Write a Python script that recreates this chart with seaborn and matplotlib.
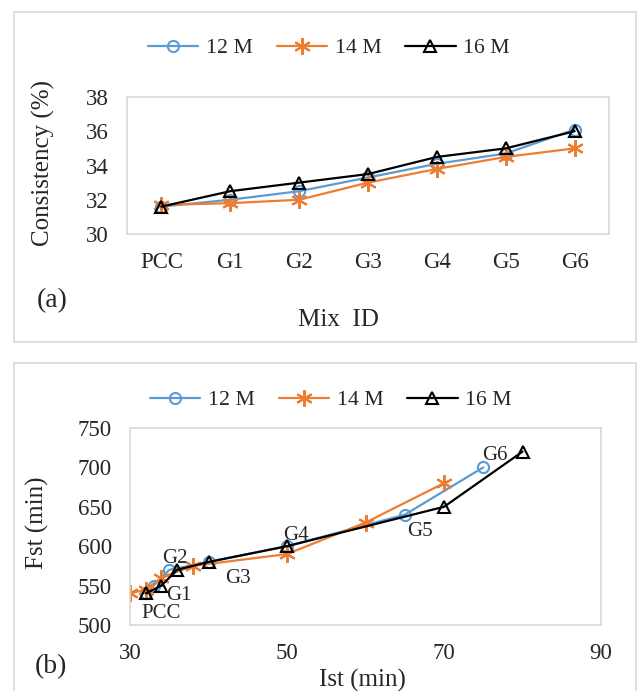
import matplotlib
matplotlib.use("Agg")
import matplotlib.pyplot as plt
import seaborn as sns
import pandas as pd
from matplotlib.patches import Rectangle

sns.set_theme(style="white")
plt.rcParams['font.family'] = ['Liberation Serif', 'DejaVu Serif']

# ---- data (a) ----
mix_ids = ["PCC", "G1", "G2", "G3", "G4", "G5", "G6"]
cons_12 = [31.6, 32.0, 32.5, 33.3, 34.1, 34.7, 36.1]
cons_14 = [31.7, 31.8, 32.0, 33.0, 33.8, 34.5, 35.0]
cons_16 = [31.6, 32.5, 33.0, 33.5, 34.5, 35.0, 36.0]

# ---- data (b) ----
ist_12 = [32, 33, 35, 40, 50, 65, 75]
fst_12 = [540, 550, 570, 580, 600, 640, 700]
ist_14 = [30, 32, 34, 38, 50, 60, 70]
fst_14 = [540, 545, 560, 575, 590, 630, 680]
ist_16 = [32, 34, 36, 40, 50, 70, 80]
fst_16 = [540, 550, 570, 580, 600, 650, 720]
point_labels = ["PCC", "G1", "G2", "G3", "G4", "G5", "G6"]
label_x = [34.0, 36.2, 35.7, 43.7, 51.2, 66.9, 76.5]
label_y = [515, 537, 585, 559, 614, 619, 715]

series = ["12 M", "14 M", "16 M"]
colors = {"12 M": "#5B9BD5", "14 M": "#ED7D31", "16 M": "#000000"}
markers = {"12 M": "o", "14 M": (6, 2, 0), "16 M": "^"}
msizes = {"12 M": 8, "14 M": 12, "16 M": 8}

W, H = 638, 691
fig = plt.figure(figsize=(W / 100, H / 100), dpi=100)

def fx(px):
    return px / W

def fy(py):
    return 1 - py / H

# panel borders
fig.patches.append(Rectangle((fx(14), fy(342)), fx(636) - fx(14), fy(12) - fy(342),
                             transform=fig.transFigure, fill=False, edgecolor="#D9D9D9", lw=1.2))
fig.patches.append(Rectangle((fx(14), fy(700)), fx(636) - fx(14), fy(363) - fy(700),
                             transform=fig.transFigure, fill=False, edgecolor="#D9D9D9", lw=1.2))

TICK_FS = 16.5
LAB_FS = 18
LEG_FS = 15.7
PT_FS = 15
TAG_FS = 20

# ---- panel (a) ----
dfa = pd.DataFrame({
    "Mix": mix_ids * 3,
    "val": cons_12 + cons_14 + cons_16,
    "series": [s for s in series for _ in mix_ids],
})
dfa["pos"] = [i for _ in series for i in range(len(mix_ids))]

ax1 = fig.add_axes([fx(127), fy(234), fx(609) - fx(127), fy(97) - fy(234)])
for s in series:
    d = dfa[dfa.series == s]
    sns.lineplot(data=d, x="pos", y="val", ax=ax1, color=colors[s], marker=markers[s],
                 markersize=msizes[s], markeredgewidth=1.5, markerfacecolor="none",
                 markeredgecolor=colors[s], lw=1.6, sort=False, label=s, legend=False)
ax1.set_xlim(-0.5, 6.5)
ax1.set_ylim(30, 38)
ax1.set_xticks(range(len(mix_ids)))
ax1.set_xticklabels(mix_ids)
ax1.set_yticks([30, 32, 34, 36, 38])
ax1.set_xlabel("")
ax1.set_ylabel("")
ax1.tick_params(length=0, labelsize=TICK_FS, pad=13)
for sp in ax1.spines.values():
    sp.set_color("#D9D9D9")
    sp.set_linewidth(1.2)

h1, l1 = ax1.get_legend_handles_labels()
fig.legend(h1, l1, loc="center", bbox_to_anchor=(fx(329), fy(48)), ncol=3, frameon=False,
           fontsize=LEG_FS, handlelength=2.3, handletextpad=0.35, columnspacing=1.1)

fig.text(fx(43), fy(163), "Consistency (%)", rotation=90, ha="center", va="center", fontsize=LAB_FS)
fig.text(fx(338), fy(320), "Mix  ID", ha="center", va="center", fontsize=LAB_FS)
fig.text(fx(52), fy(301), "(a)", ha="center", va="center", fontsize=TAG_FS)

# ---- panel (b) ----
ax2 = fig.add_axes([fx(130), fy(625), fx(601) - fx(130), fy(428) - fy(625)])
pairs = {"12 M": (ist_12, fst_12), "14 M": (ist_14, fst_14), "16 M": (ist_16, fst_16)}
for s in series:
    xs, ys = pairs[s]
    d = pd.DataFrame({"Ist": xs, "Fst": ys})
    sns.lineplot(data=d, x="Ist", y="Fst", ax=ax2, color=colors[s], marker=markers[s],
                 markersize=msizes[s], markeredgewidth=1.5, markerfacecolor="none",
                 markeredgecolor=colors[s], lw=1.6, sort=False, label=s, legend=False)
for t, x, y in zip(point_labels, label_x, label_y):
    ax2.text(x, y, t, ha="center", va="center", fontsize=PT_FS)
ax2.set_xlim(30, 90)
ax2.set_ylim(500, 750)
ax2.set_xticks([30, 50, 70, 90])
ax2.set_yticks([500, 550, 600, 650, 700, 750])
ax2.set_xlabel("")
ax2.set_ylabel("")
ax2.tick_params(length=0, labelsize=TICK_FS, pad=13)
for sp in ax2.spines.values():
    sp.set_color("#D9D9D9")
    sp.set_linewidth(1.2)

h2, l2 = ax2.get_legend_handles_labels()
fig.legend(h2, l2, loc="center", bbox_to_anchor=(fx(331), fy(400)), ncol=3, frameon=False,
           fontsize=LEG_FS, handlelength=2.3, handletextpad=0.35, columnspacing=1.1)

fig.text(fx(37), fy(523), "Fst (min)", rotation=90, ha="center", va="center", fontsize=LAB_FS)
fig.text(fx(362), fy(680), "Ist (min)", ha="center", va="center", fontsize=LAB_FS)
fig.text(fx(51), fy(667), "(b)", ha="center", va="center", fontsize=TAG_FS)

fig.savefig("out.png", dpi=100)
